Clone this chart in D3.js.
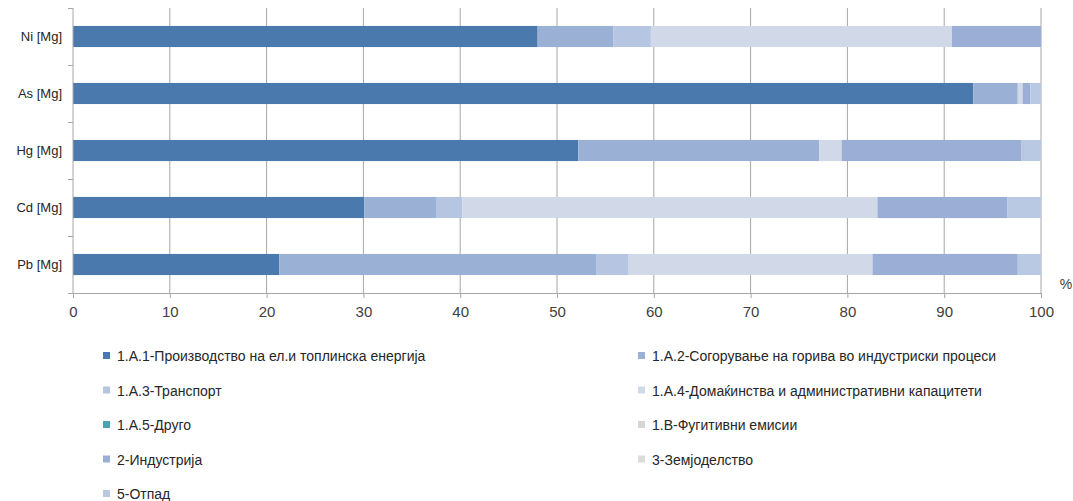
<!DOCTYPE html>
<html><head><meta charset="utf-8">
<script src="https://cdn.jsdelivr.net/npm/d3@7/dist/d3.min.js"></script>
<style>body{margin:0;background:#fff;}svg{display:block;font-family:"Liberation Sans",Arial,sans-serif;}</style>
</head><body><svg id="c" width="1073" height="501"></svg>
<script>
const categories = ["Ni [Mg]","As [Mg]","Hg [Mg]","Cd [Mg]","Pb [Mg]"];
const seriesNames = ["1.A.1-Производство на ел.и топлинска енергија","1.A.2-Согорување на горива во индустриски процеси","1.A.3-Транспорт","1.A.4-Домаќинства и административни капацитети","1.A.5-Друго","1.B-Фугитивни емисии","2-Индустрија","3-Земјоделство","5-Отпад"];
const seriesColors = ["#4a7aad","#9bb0d5","#b6c6e2","#d1d9e8","#4aa3b3","#d6d6d6","#9baed5","#dcdcdc","#b9c8e3"];
// values in %, per series, in category order Ni, As, Hg, Cd, Pb
const s1A1 = [48.0, 93.0, 52.2, 30.1, 21.3];
const s1A2 = [7.8, 4.6, 24.9, 7.4, 32.8];
const s1A3 = [3.9, 0, 0, 2.7, 3.3];
const s1A4 = [31.1, 0.5, 2.3, 42.9, 25.2];
const s1A5 = [0, 0, 0, 0, 0];
const s1B = [0, 0, 0, 0, 0];
const s2 = [9.2, 0.8, 18.6, 13.4, 15.0];
const s3 = [0, 0, 0, 0, 0];
const s5 = [0, 1.1, 2.0, 3.5, 2.4];
const xTicks = [0,10,20,30,40,50,60,70,80,90,100];

const allSeries = [s1A1,s1A2,s1A3,s1A4,s1A5,s1B,s2,s3,s5];
const rows = categories.map((c,i)=>{const o={cat:c}; seriesNames.forEach((n,j)=>o[n]=allSeries[j][i]); return o;});
const stack = d3.stack().keys(seriesNames)(rows);

const svg = d3.select("#c");
const L=73, R=1041, T=8, B=293;
const x = d3.scaleLinear().domain([0,100]).range([L,R]);
const y = d3.scaleBand().domain(categories).range([T,B]).paddingInner(0.63).paddingOuter(0.315);

// gridlines
svg.append("g").selectAll("line").data(xTicks.slice(1)).join("line")
  .attr("x1",d=>x(d)).attr("x2",d=>x(d)).attr("y1",T).attr("y2",B)
  .attr("stroke","#a6a6a6").attr("stroke-width",1);

// bars
svg.append("g").selectAll("g").data(stack).join("g").attr("fill",(d,i)=>seriesColors[i])
  .selectAll("rect").data(d=>d).join("rect")
  .attr("x",d=>x(d[0])).attr("width",d=>x(d[1])-x(d[0]))
  .attr("y",d=>y(d.data.cat)).attr("height",y.bandwidth());

// x axis
const xa = svg.append("g").attr("transform",`translate(0,${B})`)
  .call(d3.axisBottom(x).tickValues(xTicks).tickSize(5).tickPadding(8));
xa.select(".domain").attr("stroke","#a6a6a6");
xa.selectAll(".tick line").attr("stroke","#a6a6a6");
xa.selectAll("text").attr("font-size",15).attr("fill","#404040");

// y axis
const step = y.step();
const ya = svg.append("g").attr("transform",`translate(${L},0)`)
  .call(d3.axisLeft(y).tickSize(0).tickPadding(11));
ya.select(".domain").attr("stroke","#a6a6a6").attr("d",`M0,${T}V${B}`);
ya.selectAll("text").attr("font-size",13).attr("fill","#262626");
svg.append("g").selectAll("line").data(d3.range(categories.length+1)).join("line")
  .attr("x1",L-5).attr("x2",L).attr("y1",i=>T+i*step+0.5).attr("y2",i=>T+i*step+0.5)
  .attr("stroke","#a6a6a6");

svg.append("text").attr("x",1066).attr("y",289).attr("text-anchor","middle")
  .attr("font-size",14).attr("fill","#404040").text("%");

// legend
const lg = svg.append("g").selectAll("g").data(seriesNames).join("g")
  .attr("transform",(d,i)=>`translate(${i%2===0?103:638},${356+Math.floor(i/2)*34.5})`);
lg.append("rect").attr("x",0).attr("y",-4).attr("width",7).attr("height",7).attr("fill",(d,i)=>seriesColors[i]);
lg.append("text").attr("x",14).attr("y",5).attr("font-size",14).attr("fill","#262626").text(d=>d);
</script></body></html>
